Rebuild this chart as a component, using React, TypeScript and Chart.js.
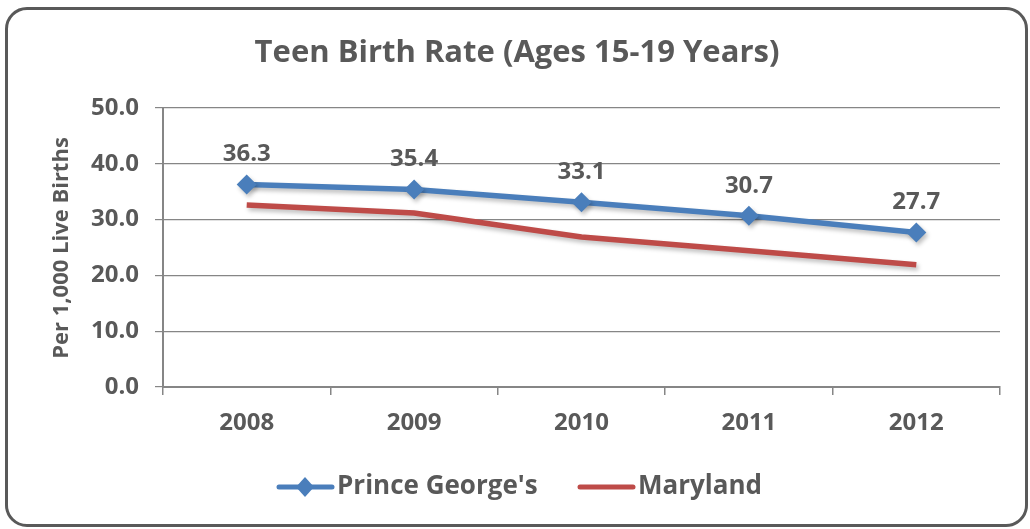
import React, { useEffect, useRef } from "react";
import { Chart, registerables } from "chart.js";

Chart.register(...registerables);

const years = ["2008", "2009", "2010", "2011", "2012"];
const princeGeorges = [36.3, 35.4, 33.1, 30.7, 27.7];
const maryland = [32.6, 31.2, 26.9, 24.4, 21.9];
const seriesNames = ["Prince George's", "Maryland"];
const chartTitle = "Teen Birth Rate (Ages 15-19 Years)";
const yAxisTitle = "Per 1,000 Live Births";

const FONT = "'Open Sans', sans-serif";
const TEXT = "#595959";
const BLUE = "#4A7EBB";
const RED = "#BE4B48";
const GRID = "#868686";

const overlayPlugin = {
  id: "overlay",
  beforeDatasetsDraw(chart: any) {
    const ctx = chart.ctx;
    ctx.save();
    ctx.shadowColor = "rgba(0,0,0,0.25)";
    ctx.shadowBlur = 4;
    ctx.shadowOffsetX = 2;
    ctx.shadowOffsetY = 3;
  },
  afterDatasetsDraw(chart: any) {
    const ctx = chart.ctx;
    ctx.restore();
    const meta = chart.getDatasetMeta(0);
    ctx.save();
    ctx.fillStyle = TEXT;
    ctx.font = `bold 24px ${FONT}`;
    ctx.textAlign = "center";
    ctx.textBaseline = "middle";
    meta.data.forEach((pt: any, i: number) => {
      ctx.fillText(princeGeorges[i].toFixed(1), pt.x, pt.y - 30);
    });
    ctx.restore();
  },
  afterDraw(chart: any) {
    const ctx = chart.ctx;
    ctx.save();
    ctx.fillStyle = TEXT;
    ctx.font = `bold 31px ${FONT}`;
    ctx.textAlign = "center";
    ctx.textBaseline = "middle";
    ctx.fillText(chartTitle, 517, 53);
    ctx.save();
    ctx.translate(62, 248);
    ctx.rotate(-Math.PI / 2);
    ctx.font = `bold 22px ${FONT}`;
    ctx.fillText(yAxisTitle, 0, 0);
    ctx.restore();
    const ly = 487;
    ctx.lineCap = "round";
    ctx.lineWidth = 5;
    ctx.strokeStyle = BLUE;
    ctx.beginPath();
    ctx.moveTo(279, ly);
    ctx.lineTo(332, ly);
    ctx.stroke();
    ctx.fillStyle = BLUE;
    ctx.beginPath();
    ctx.moveTo(305, ly - 10);
    ctx.lineTo(314, ly);
    ctx.lineTo(305, ly + 10);
    ctx.lineTo(296, ly);
    ctx.closePath();
    ctx.fill();
    ctx.strokeStyle = RED;
    ctx.beginPath();
    ctx.moveTo(580, ly);
    ctx.lineTo(633, ly);
    ctx.stroke();
    ctx.fillStyle = TEXT;
    ctx.font = `bold 26px ${FONT}`;
    ctx.textAlign = "left";
    ctx.fillText(seriesNames[0], 337, ly);
    ctx.fillText(seriesNames[1], 638, ly);
    ctx.restore();
  },
};

export default function App() {
  const ref = useRef<HTMLCanvasElement>(null);
  useEffect(() => {
    if (!ref.current) return;
    const chart = new Chart(ref.current, {
      type: "line",
      data: {
        labels: years,
        datasets: [
          {
            label: seriesNames[0],
            data: princeGeorges,
            borderColor: BLUE,
            backgroundColor: BLUE,
            borderWidth: 5.5,
            pointStyle: "rectRot",
            pointRadius: 10,
            pointBorderWidth: 0,
            tension: 0,
          },
          {
            label: seriesNames[1],
            data: maryland,
            borderColor: RED,
            backgroundColor: RED,
            borderWidth: 5.5,
            pointRadius: 0,
            tension: 0,
          },
        ],
      },
      options: {
        animation: false,
        responsive: false,
        maintainAspectRatio: false,
        layout: { padding: { top: 108, left: 0, right: 30, bottom: 0 } },
        plugins: {
          legend: { display: false },
          title: { display: false },
          tooltip: { enabled: false },
        },
        scales: {
          x: {
            offset: true,
            afterFit: (s: any) => {
              s.height = 142;
            },
            grid: {
              offset: true,
              drawOnChartArea: false,
              tickLength: 8,
              color: GRID,
              lineWidth: 1.5,
            },
            border: { color: GRID, width: 2 },
            ticks: {
              color: TEXT,
              font: { family: FONT, size: 24, weight: "bold" },
              padding: 14,
            },
          },
          y: {
            min: 0,
            max: 50,
            afterFit: (s: any) => {
              s.width = 163;
            },
            grid: { color: GRID, tickLength: 8, lineWidth: 1.2 },
            border: { color: GRID, width: 2 },
            ticks: {
              stepSize: 10,
              color: TEXT,
              font: { family: FONT, size: 24, weight: "bold" },
              padding: 16,
              callback: (v: any) => Number(v).toFixed(1),
            },
          },
        },
      },
      plugins: [overlayPlugin],
    });
    return () => chart.destroy();
  }, []);
  return (
    <div style={{ position: "absolute", left: 0, top: 0, width: 1030, height: 529 }}>
      <div
        style={{
          position: "absolute",
          left: 5,
          top: 7,
          width: 1017,
          height: 514,
          border: "3px solid #595959",
          borderRadius: 22,
          background: "#fff",
        }}
      />
      <canvas
        ref={ref}
        width={1030}
        height={529}
        style={{ position: "absolute", left: 0, top: 0, width: 1030, height: 529 }}
      />
    </div>
  );
}
